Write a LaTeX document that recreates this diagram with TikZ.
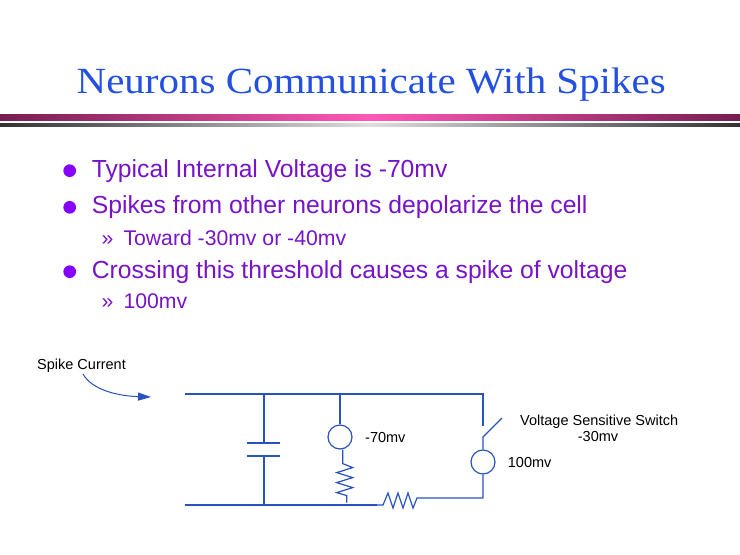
\documentclass[tikz,border=0pt]{standalone}
\usepackage{fontspec}
\usepackage{graphicx}
\setmainfont{Latin Modern Roman}
\newfontfamily\arialf{Liberation Sans}
\newfontfamily\serift{Liberation Serif}
\usetikzlibrary{arrows.meta}
\definecolor{titleblue}{RGB}{35,80,225}
\definecolor{txtpurple}{RGB}{120,20,200}
\definecolor{dotpurple}{RGB}{135,0,255}
\definecolor{wireblue}{RGB}{40,82,190}
\definecolor{magdark}{RGB}{118,30,80}
\definecolor{magbright}{RGB}{255,88,184}
\definecolor{greydark}{RGB}{50,50,50}
\definecolor{greybright}{RGB}{222,222,222}
\tikzset{
  titletext/.style={anchor=base west,inner sep=0,text=titleblue},
  bullettext/.style={anchor=base west,inner sep=0,text=txtpurple,font=\arialf\fontsize{24.7}{26}\selectfont},
  subtext/.style={anchor=base west,inner sep=0,text=txtpurple,font=\arialf\fontsize{21.2}{23}\selectfont},
  bulletdot/.style={circle,fill=dotpurple,inner sep=0,minimum size=12.7pt},
  wire/.style={draw=wireblue,line width=1.2pt},
  source/.style={circle,draw=wireblue,line width=1.2pt,inner sep=0,minimum size=24pt},
  clabel/.style={anchor=base west,inner sep=0,text=black,font=\arialf\fontsize{14.5}{16}\selectfont},
}
\begin{document}
\begin{tikzpicture}[x=1pt,y=-1pt]
\useasboundingbox[fill=white] (0,0) rectangle (740,555);
% title
\node[titletext] (title) at (76.5,93.3) {\resizebox{589pt}{25.6pt}{\serift\fontsize{36}{40}\selectfont Neurons Communicate With Spikes}};
% bars
\shade[left color=magdark,right color=magbright] (0,114) rectangle (370,120.7);
\shade[left color=magbright,right color=magdark] (370,114) rectangle (740,120.7);
\shade[left color=greydark,right color=greybright] (0,123) rectangle (370,126.7);
\shade[left color=greybright,right color=greydark] (370,123) rectangle (740,126.7);
% bullets
\node[bulletdot] (d1) at (69.7,170.7) {};
\node[bulletdot] (d2) at (69.7,207.3) {};
\node[bulletdot] (d3) at (69.7,271.7) {};
\node[bullettext] (t1) at (91.7,177.3) {Typical Internal Voltage is -70mv};
\node[bullettext] (t2) at (91.7,213.3) {Spikes from other neurons depolarize the cell};
\node[subtext] (s1m) at (101.5,245) {»};
\node[subtext] (s1) at (123.3,245) {Toward -30mv or -40mv};
\node[bullettext] (t3) at (91.7,278.3) {Crossing this threshold causes a spike of voltage};
\node[subtext] (s2m) at (101.5,308.3) {»};
\node[subtext] (s2) at (123.3,308.3) {100mv};
% circuit coordinates
\coordinate (tl) at (185,394);
\coordinate (tr) at (483,394);
\coordinate (bl) at (185,505);
\coordinate (ctop) at (264,394);
\coordinate (cp1) at (264,443);
\coordinate (cp2) at (264,456);
\coordinate (cbot) at (264,505);
\coordinate (mtop) at (340,394);
\coordinate (rbend) at (377,505);
\coordinate (rend) at (417,498);
\coordinate (br) at (483,498);
\coordinate (swup) at (483,426);
\coordinate (swlow) at (483,437);
\coordinate (swtip) at (502,418);
\node[source] (v70) at (340,437) {};
\node[source] (v100) at (483,462) {};
% wires
\draw[wire] (tl) -- (tr) -- (swup);
\draw[wire] (bl) -- (rbend);
\draw[wire] (ctop) -- (cp1);
\draw[wire] (247,443) -- (280,443);
\draw[wire] (247,456) -- (280,456);
\draw[wire] (cp2) -- (cbot);
\draw[wire] (mtop) -- (v70.north);
\draw[wire,line join=miter] (v70.south) ++(2.7,0) -- ++(0,14) -- ++(10,4) -- ++(-16,5) -- ++(16,5) -- ++(-16,5) -- ++(16,5) -- ++(-16,5) -- ++(10,3) -- ++(0,7);
\draw[wire,line join=miter] (rbend) -- ++(6,0) -- ++(5,-12) -- ++(5,15) -- ++(5,-15) -- ++(5,15) -- ++(5,-15) -- ++(5,15) -- (rend) -- (br) -- (v100.south);
\draw[wire] (v100.north) -- (swlow) -- (swtip);
% spike current arrow
\node[clabel] (sc) at (37,369) {Spike Current};
\coordinate (arrS) at (83,374);
\coordinate (arrE) at (151,397);
\draw[draw=wireblue,line width=1pt,-{Triangle[length=13pt,width=8pt]}] (arrS) .. controls (92,390) and (118,396) .. (arrE);
% labels
\node[clabel] (l70) at (365,442.7) {-70mv};
\node[clabel] (l100) at (507.7,467.3) {100mv};
\node[clabel] (lvs) at (520,425) {Voltage Sensitive Switch};
\node[clabel,anchor=base] (l30) at (598,441.7) {-30mv};
\end{tikzpicture}
\end{document}
